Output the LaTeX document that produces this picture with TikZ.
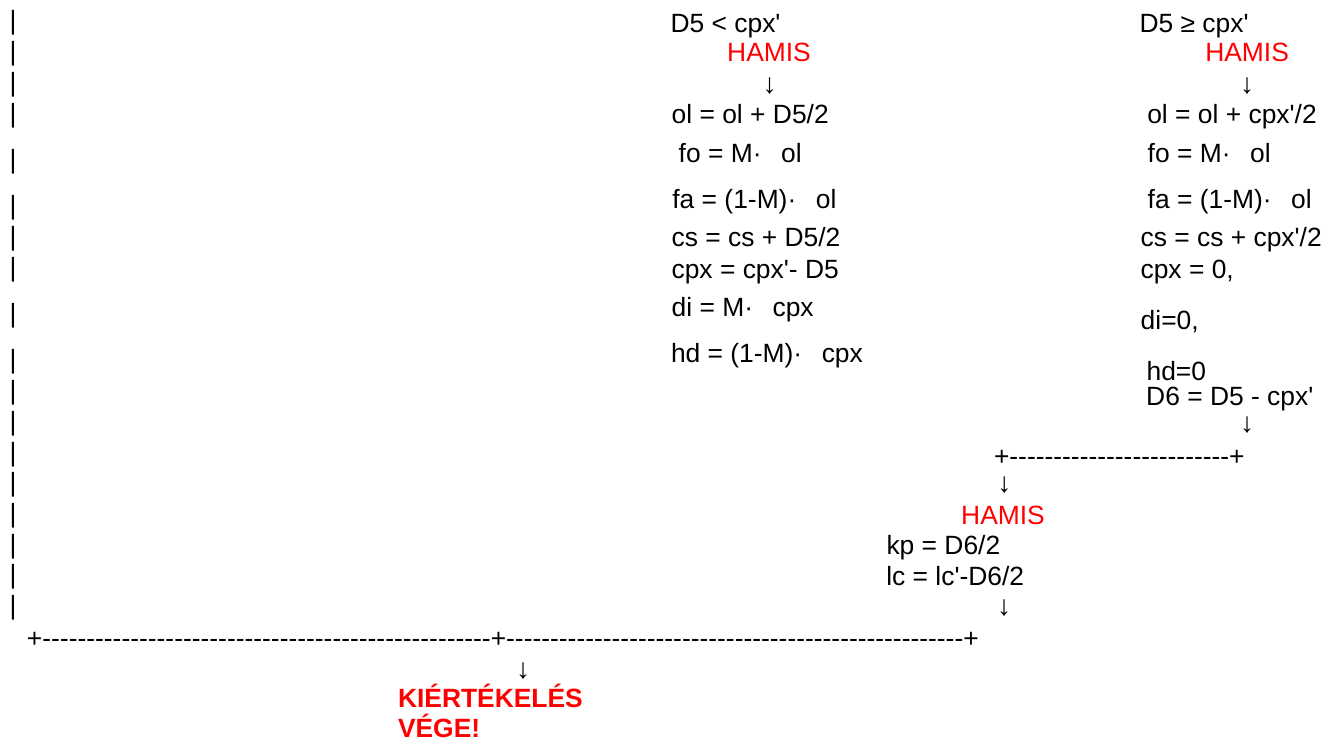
\documentclass[tikz,border=0pt]{standalone}
\usepackage{fontspec}
\newfontfamily\af{Liberation Sans}
\newcount\dcnt
\newcommand\dashrun[1]{\dcnt=#1\relax\loop\ifnum\dcnt>0 -\advance\dcnt by -1\relax\repeat}
\newcommand\gp{\hspace{19.5pt}}
\tikzset{
  txt/.style={font=\af\fontsize{26.4}{30}\selectfont, inner sep=0pt, outer sep=0pt, anchor=base west, text=black},
  hamis/.style={txt, text=red},
  endtxt/.style={txt, text=red, font=\af\bfseries\fontsize{26.4}{30}\selectfont},
  glyph/.style={font=\af\fontsize{26.4}{30}\selectfont, inner sep=0pt, outer sep=0pt, anchor=center, text=black},
  arrowglyph/.style={glyph, font=\af\fontsize{28}{30}\selectfont},
}
\begin{document}
\begin{tikzpicture}[x=1pt,y=-1pt]
\useasboundingbox (0,0) rectangle (1325,741);
% left column of bars
\foreach \yy [count=\k] in {22.5,53.5,84.5,115.5,161.5,207.5,239,270,315.5,361.5,392.5,424,454.5,484.5,515.5,546.5,576.5,607.5}
  \node[glyph] (p\k) at (13,\yy) {|};
% first branch
\node[txt]   (c1a) at (670.6,32.5)  {D5 < cpx'};
\node[hamis] (h1)  at (727.2,62)    {HAMIS};
\node[arrowglyph] (ar1) at (769.5,86.5)  {↓};
\node[txt]   (c1b) at (671.7,124)   {ol = ol + D5/2};
\node[txt]   (c1c) at (678.7,162.5) {fo = M·\gp ol};
\node[txt]   (c1d) at (672.4,208.5) {fa = (1-M)·\gp ol};
\node[txt]   (c1e) at (671.6,246.5) {cs = cs + D5/2};
\node[txt]   (c1f) at (671.6,278.5) {cpx = cpx'- D5};
\node[txt]   (c1g) at (671.7,316)   {di = M·\gp cpx};
\node[txt]   (c1h) at (671,362.5)   {hd = (1-M)·\gp cpx};
% second branch
\node[txt]   (c2a) at (1139.6,32.5) {D5 ≥ cpx'};
\node[hamis] (h2)  at (1205.3,62)   {HAMIS};
\node[arrowglyph] (ar2) at (1247,86.5)   {↓};
\node[txt]   (c2b) at (1147.3,124)  {ol = ol + cpx'/2};
\node[txt]   (c2c) at (1147.7,162.5){fo = M·\gp ol};
\node[txt]   (c2d) at (1147.7,208.5){fa = (1-M)·\gp ol};
\node[txt]   (c2e) at (1140.6,246.5){cs = cs + cpx'/2};
\node[txt]   (c2f) at (1140.6,278.5){cpx = 0,};
\node[txt]   (c2g) at (1140.7,329)  {di=0,};
\node[txt]   (c2h) at (1146.6,380.5){hd=0};
\node[txt]   (c2i) at (1146.2,405.5){D6 = D5 - cpx'};
\node[arrowglyph] (ar3) at (1247,425.5)    {↓};
\node[txt]   (row1) at (994,465)    {+\dashrun{25}+};
\node[arrowglyph] (ar4) at (1004.3,485)  {↓};
\node[hamis] (h3)  at (961.2,524.5) {HAMIS};
\node[txt]   (c3a) at (886.5,554.5) {kp = D6/2};
\node[txt]   (c3b) at (886.3,585)   {lc = lc'-D6/2};
\node[arrowglyph] (ar5) at (1004,608)    {↓};
\node[txt]   (row2) at (27,647)     {+\dashrun{51}+\dashrun{52}+};
\node[arrowglyph] (ar6) at (523,671)     {↓};
\node[endtxt] (e1) at (398,707)     {KIÉRTÉKELÉS};
\node[endtxt] (e2) at (398,737)     {VÉGE!};
\end{tikzpicture}
\end{document}
